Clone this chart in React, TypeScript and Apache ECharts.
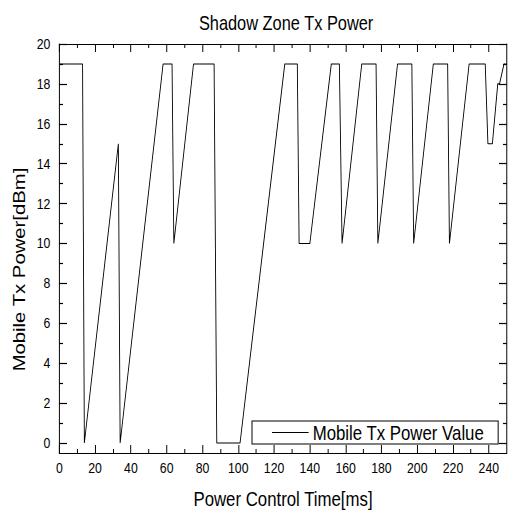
import React, { useEffect, useRef } from "react";
import * as echarts from "echarts";

const timeMs = [0, 13, 14, 33, 34, 58, 63, 64, 75, 86.5, 88, 101, 126, 133, 134, 140, 152, 156.5, 158, 169, 177, 178, 189, 197, 198, 209, 217, 218, 229, 238, 239.5, 242, 245, 246, 248.5, 250];
const txPower = [19, 19, 0, 15, 0, 19, 19, 10, 19, 19, 0, 0, 19, 19, 10, 10, 19, 19, 10, 19, 19, 10, 19, 19, 10, 19, 19, 10, 19, 19, 15, 15, 18, 18, 19, 19];

const xMajor = [0, 20, 40, 60, 80, 100, 120, 140, 160, 180, 200, 220, 240];
const xMinor = [10, 30, 50, 70, 90, 110, 130, 150, 170, 190, 210, 230];
const yMajor = [0, 2, 4, 6, 8, 10, 12, 14, 16, 18, 20];
const yMinor = [1, 3, 5, 7, 9, 11, 13, 15, 17, 19];

const FONT = "'Liberation Sans', Arial, sans-serif";
// the reference is horizontally condensed; draw wider and squeeze
const W = 620;
const SX = 508 / W;
const sx = (v: number) => v / SX;

export default function App() {
  const ref = useRef<HTMLDivElement>(null);
  useEffect(() => {
    if (!ref.current) return;
    const chart = echarts.init(ref.current, null, { renderer: "svg" });
    const black = "#000";
    const mkX = (pos: "top" | "bottom", vals: number[], len: number, main: boolean) => ({
      type: "value",
      position: pos,
      min: 0,
      max: 250,
      axisLine: { show: main, onZero: false, lineStyle: { color: black, width: 1.2 } },
      axisTick: { show: true, inside: true, length: len, customValues: vals, lineStyle: { color: black, width: 1.2 } },
      axisLabel: main && pos === "bottom"
        ? { show: true, customValues: xMajor, margin: 8, fontSize: 15, color: black, fontFamily: FONT }
        : { show: false },
      splitLine: { show: false },
      name: main && pos === "bottom" ? "Power Control Time[ms]" : "",
      nameLocation: "middle",
      nameGap: 35,
      nameTextStyle: { fontSize: 20.5, color: black, fontFamily: FONT },
    });
    const mkY = (pos: "left" | "right", vals: number[], len: number, main: boolean) => ({
      type: "value",
      position: pos,
      min: -0.5,
      max: 20,
      axisLine: { show: main, onZero: false, lineStyle: { color: black, width: 1.2 } },
      axisTick: { show: true, inside: true, length: len, customValues: vals, lineStyle: { color: black, width: 1.2 } },
      axisLabel: main && pos === "left"
        ? { show: true, customValues: yMajor, margin: sx(9), fontSize: 15, color: black, fontFamily: FONT }
        : { show: false },
      splitLine: { show: false },
      name: main && pos === "left" ? "Mobile Tx Power[dBm]" : "",
      nameLocation: "middle",
      nameGap: 33.5,
      nameRotate: 90,
      nameTextStyle: { fontSize: 20.3, color: black, fontFamily: FONT, padding: [0, 42, 0, 0] },
    });
    chart.setOption({
      animation: false,
      backgroundColor: "#fff",
      title: {
        text: "Shadow Zone Tx Power",
        left: sx(282),
        top: 8,
        textAlign: "center",
        textStyle: { fontSize: 20, fontWeight: "normal", color: black, fontFamily: FONT },
      },
      grid: { left: sx(59.3), right: sx(1.3), top: 44, bottom: 59, containLabel: false, outerBoundsMode: "none" },
      xAxis: [
        mkX("bottom", xMajor, 8, true),
        mkX("bottom", xMinor, 4, false),
        mkX("top", xMajor, 8, true),
        mkX("top", xMinor, 4, false),
      ],
      yAxis: [
        mkY("left", yMajor, sx(7.7), true),
        mkY("left", yMinor, sx(3.7), false),
        mkY("right", yMajor, sx(7.7), true),
        mkY("right", yMinor, sx(3.7), false),
      ],
      legend: {
        left: sx(252),
        top: 421,
        orient: "horizontal",
        backgroundColor: "#fff",
        borderColor: black,
        borderWidth: 1.2,
        borderRadius: 0,
        padding: [1, sx(14), 1, sx(20)],
        icon: "rect",
        itemWidth: sx(36.6),
        itemHeight: 1,
        textStyle: { fontSize: 20.5, color: black, fontFamily: FONT, lineHeight: 21 },
        data: ["Mobile Tx Power Value"],
      },
      series: [
        {
          name: "Mobile Tx Power Value",
          type: "line",
          xAxisIndex: 0,
          yAxisIndex: 0,
          symbol: "none",
          data: timeMs.map((t, i) => [t, txPower[i]]),
          lineStyle: { color: black, width: 1.1 },
          itemStyle: { color: black },
        },
      ],
    });
    return () => chart.dispose();
  }, []);
  return (
    <div
      ref={ref}
      style={{
        position: "absolute",
        left: 0,
        top: 0,
        width: W,
        height: 512,
        transform: `scaleX(${SX})`,
        transformOrigin: "0 0",
      }}
    />
  );
}
